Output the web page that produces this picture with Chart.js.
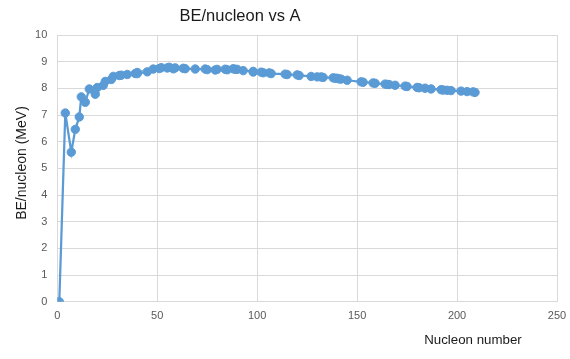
<!DOCTYPE html>
<html>
<head>
<meta charset="utf-8">
<script src="https://cdn.jsdelivr.net/npm/chart.js@4/dist/chart.umd.min.js"></script>
<style>
  html, body { margin: 0; padding: 0; background: #fff; }
  #wrap { width: 570px; height: 359px; position: relative; }
</style>
</head>
<body>
<div id="wrap"><canvas id="c" width="570" height="359"></canvas></div>
<script>
// Mass number A of the plotted nuclides
const nucleonNumber = [1, 4, 7, 9, 11, 12, 14, 16, 19, 20, 23, 24, 27, 28, 31, 32, 35, 40, 39, 40,
  45, 48, 51, 52, 55, 56, 59, 58, 63, 64, 69, 74, 75, 80, 79, 84, 85, 88, 89, 90,
  93, 98, 98, 102, 103, 106, 107, 114, 115, 120, 121, 130, 127, 132, 133, 138, 139, 140, 141, 142,
  145, 152, 153, 158, 159, 164, 165, 166, 169, 174, 175, 180, 181, 184, 187, 192, 193, 195, 197, 202,
  205, 208, 209];
// Binding energy per nucleon (MeV)
const bePerNucleon = [0, 7.074, 5.606, 6.463, 6.928, 7.680, 7.476, 7.976, 7.779, 8.032, 8.112, 8.261, 8.332, 8.448, 8.481, 8.493, 8.520, 8.595, 8.557, 8.551,
  8.619, 8.723, 8.742, 8.776, 8.765, 8.790, 8.768, 8.732, 8.752, 8.736, 8.725, 8.725, 8.701, 8.711, 8.688, 8.717, 8.697, 8.733, 8.714, 8.710,
  8.664, 8.635, 8.610, 8.607, 8.584, 8.580, 8.554, 8.532, 8.517, 8.505, 8.482, 8.430, 8.446, 8.428, 8.410, 8.394, 8.378, 8.376, 8.354, 8.346,
  8.303, 8.244, 8.229, 8.202, 8.189, 8.159, 8.147, 8.142, 8.115, 8.084, 8.069, 8.035, 8.023, 8.005, 7.978, 7.948, 7.938, 7.927, 7.916, 7.897,
  7.878, 7.868, 7.848];
const xTicks = [0, 50, 100, 150, 200, 250];
const yTicks = [0, 1, 2, 3, 4, 5, 6, 7, 8, 9, 10];
const chartTitle = 'BE/nucleon vs A';
const xTitle = 'Nucleon number';
const yTitle = 'BE/nucleon (MeV)';

const points = nucleonNumber.map((a, i) => ({ x: a, y: bePerNucleon[i] }));
const FONT = "'Liberation Sans', Arial, sans-serif";

const textPlugin = {
  id: 'texts',
  afterDraw(chart) {
    const ctx = chart.ctx;
    ctx.save();
    ctx.fillStyle = '#1a1a1a';
    ctx.textAlign = 'center';
    ctx.textBaseline = 'middle';
    ctx.font = '16.5px ' + FONT;
    ctx.fillText(chartTitle, 240, 16);
    ctx.font = '13.3px ' + FONT;
    ctx.fillText(xTitle, 473, 340);
    ctx.translate(22, 163);
    ctx.rotate(-Math.PI / 2);
    ctx.font = '14px ' + FONT;
    ctx.fillText(yTitle, 0, 0);
    ctx.restore();
  }
};

new Chart(document.getElementById('c'), {
  type: 'scatter',
  data: {
    datasets: [{
      data: points,
      showLine: true,
      borderColor: '#5b9bd5',
      backgroundColor: '#5b9bd5',
      borderWidth: 2.25,
      pointRadius: 4.2,
      pointHoverRadius: 4.2,
      pointBorderWidth: 1,
      pointBorderColor: '#5b9bd5',
      tension: 0
    }]
  },
  options: {
    responsive: false,
    animation: false,
    devicePixelRatio: 1,
    layout: { padding: { left: 0, top: 35, right: 13, bottom: 37 } },
    plugins: { legend: { display: false }, tooltip: { enabled: false }, title: { display: false } },
    scales: {
      x: {
        type: 'linear',
        min: 0, max: 250,
        afterBuildTicks(s) { s.ticks = xTicks.map(v => ({ value: v })); },
        afterFit(s) { s.height = 20.3; s.paddingRight = 0; s.paddingLeft = 0; },
        grid: { color: '#d9d9d9', lineWidth: 1, drawTicks: false },
        border: { color: '#d9d9d9' },
        ticks: { color: '#595959', font: { family: FONT, size: 11 }, padding: 8, maxRotation: 0 }
      },
      y: {
        type: 'linear',
        min: 0, max: 10,
        afterBuildTicks(s) { s.ticks = yTicks.map(v => ({ value: v })); },
        afterFit(s) { s.width = 57.3; s.paddingTop = 0; s.paddingBottom = 0; },
        grid: { color: '#d9d9d9', lineWidth: 1, drawTicks: false },
        border: { color: '#d9d9d9' },
        ticks: { color: '#595959', font: { family: FONT, size: 11 }, padding: 10 }
      }
    }
  },
  plugins: [textPlugin]
});
</script>
</body>
</html>
